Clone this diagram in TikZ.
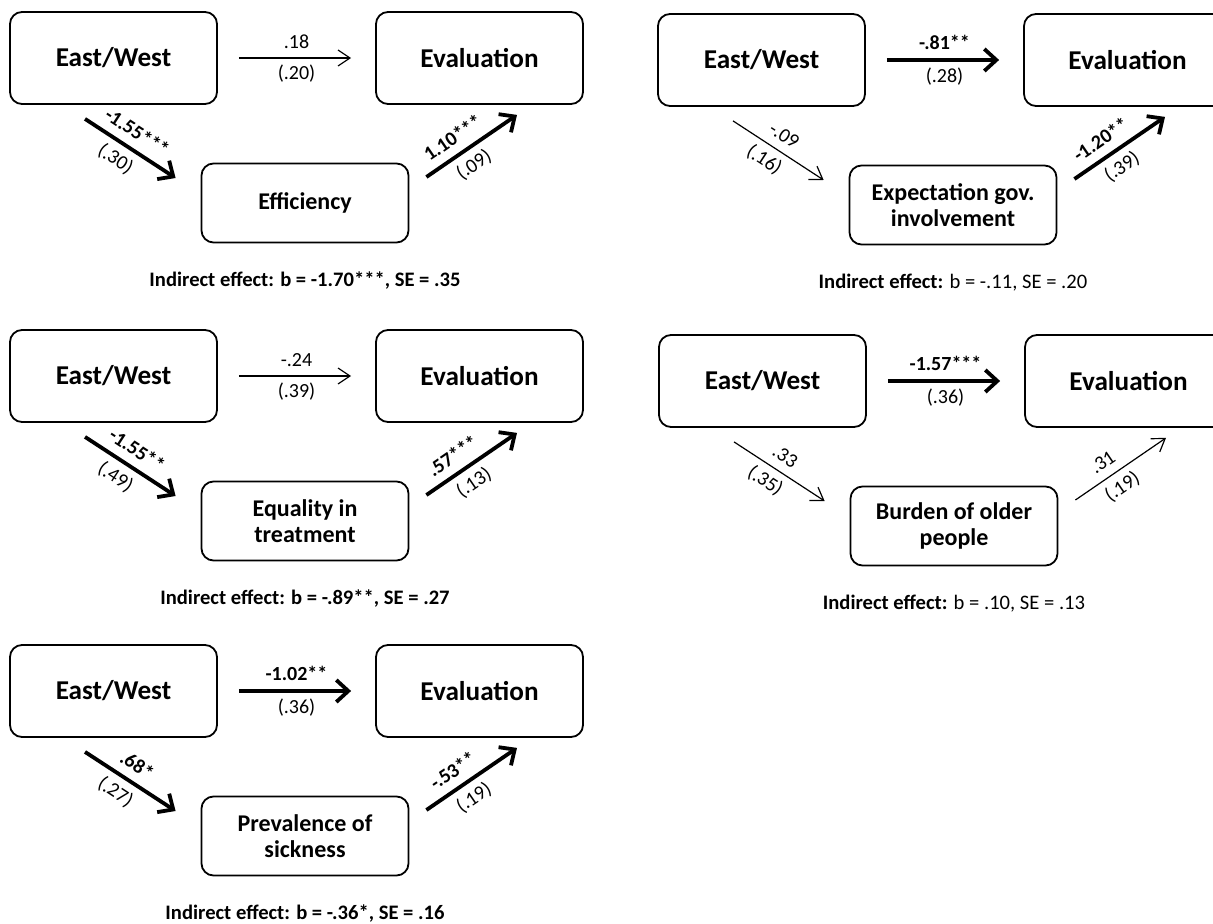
\documentclass[tikz,border=0pt]{standalone}
\usepackage{fontspec}
\setmainfont{Carlito}
\usetikzlibrary{arrows.meta,positioning}

\begin{document}
\begin{tikzpicture}[x=0.5pt, y=-0.5pt,
    var/.style={draw, rounded corners=6pt, line width=0.9pt, minimum width=103.5pt, minimum height=46pt, font=\fontsize{13.6}{16}\selectfont\bfseries},
    medbox/.style={var, minimum height=39.5pt, align=center, font=\fontsize{12}{13.2}\selectfont\bfseries},
    ns/.style={line width=0.6pt, -{Straight Barb[length=6pt,width=8pt]}},
    sig/.style={line width=1.9pt, -{Straight Barb[length=6pt,width=11pt]}},
    direct/.style={shorten <=10.5pt, shorten >=12pt},
    coef/.style={font=\fontsize{10}{12}\selectfont, inner sep=1pt},
    indirect/.style={font=\fontsize{10.3}{12}\selectfont, inner sep=0pt}
]
\useasboundingbox (0,0) rectangle (1213,924);

% efficiency
\node[var] (ew1) at (113.5,58) {East/West};
\node[var] (ev1) at (479.5,58) {Evaluation};
\node[medbox] (m1) at (305,203) {Efficiency};
\node[indirect, below=14pt of m1] (ie1) {\textbf{Indirect effect: b = -1.70***, SE = .35}};
\draw[ns, direct] (ew1) -- (ev1)
    node[coef, midway, above=3.3pt] {.18} node[coef, midway, below=2.2pt] {(.20)};
\draw[sig] ([shift={(-14.25pt,-7pt)}]ew1.south) -- ([shift={(-12.5pt,12.5pt)}]m1.west)
    node[coef, pos=0.47, sloped, above=3.3pt] {\textbf{-1.55***}} node[coef, pos=0.44, sloped, below=2.2pt] {(.30)};
\draw[sig] ([shift={(8.5pt,13pt)}]m1.east) -- ([shift={(18.75pt,-5pt)}]ev1.south)
    node[coef, pos=0.4, sloped, above=3.3pt] {\textbf{1.10***}} node[coef, pos=0.42, sloped, below=2.2pt] {(.09)};

% equality in treatment
\begin{scope}[shift={(0,318)}]
\node[var] (ew2) at (113.5,58) {East/West};
\node[var] (ev2) at (479.5,58) {Evaluation};
\node[medbox] (m2) at (305,203) {Equality in\\treatment};
\node[indirect, below=14pt of m2] (ie2) {\textbf{Indirect effect: b = -.89**, SE = .27}};
\draw[ns, direct] (ew2) -- (ev2)
    node[coef, midway, above=3.3pt] {-.24} node[coef, midway, below=2.2pt] {(.39)};
\draw[sig] ([shift={(-14.25pt,-7pt)}]ew2.south) -- ([shift={(-12.5pt,12.5pt)}]m2.west)
    node[coef, pos=0.47, sloped, above=3.3pt] {\textbf{-1.55**}} node[coef, pos=0.44, sloped, below=2.2pt] {(.49)};
\draw[sig] ([shift={(8.5pt,13pt)}]m2.east) -- ([shift={(18.75pt,-5pt)}]ev2.south)
    node[coef, pos=0.4, sloped, above=3.3pt] {\textbf{.57***}} node[coef, pos=0.42, sloped, below=2.2pt] {(.13)};
\end{scope}

% prevalence of sickness
\begin{scope}[shift={(0,633)}]
\node[var] (ew3) at (113.5,58) {East/West};
\node[var] (ev3) at (479.5,58) {Evaluation};
\node[medbox] (m3) at (305,203) {Prevalence of\\sickness};
\node[indirect, below=14pt of m3] (ie3) {\textbf{Indirect effect: b = -.36*, SE = .16}};
\draw[sig, direct] (ew3) -- (ev3)
    node[coef, midway, above=3.3pt] {\textbf{-1.02**}} node[coef, midway, below=2.2pt] {(.36)};
\draw[sig] ([shift={(-14.25pt,-7pt)}]ew3.south) -- ([shift={(-12.5pt,12.5pt)}]m3.west)
    node[coef, pos=0.47, sloped, above=3.3pt] {\textbf{.68*}} node[coef, pos=0.44, sloped, below=2.2pt] {(.27)};
\draw[sig] ([shift={(8.5pt,13pt)}]m3.east) -- ([shift={(18.75pt,-5pt)}]ev3.south)
    node[coef, pos=0.4, sloped, above=3.3pt] {\textbf{-.53**}} node[coef, pos=0.42, sloped, below=2.2pt] {(.19)};
\end{scope}

% expectation gov. involvement
\begin{scope}[shift={(648,2)}]
\node[var] (ew4) at (113.5,58) {East/West};
\node[var] (ev4) at (479.5,58) {Evaluation};
\node[medbox] (m4) at (305,203) {Expectation gov.\\involvement};
\node[indirect, below=14pt of m4] (ie4) {\textbf{Indirect effect:} b = -.11, SE = .20};
\draw[sig, direct] (ew4) -- (ev4)
    node[coef, midway, above=3.3pt] {\textbf{-.81**}} node[coef, midway, below=2.2pt] {(.28)};
\draw[ns] ([shift={(-14.25pt,-7pt)}]ew4.south) -- ([shift={(-12.5pt,12.5pt)}]m4.west)
    node[coef, pos=0.47, sloped, above=3.3pt] {-.09} node[coef, pos=0.44, sloped, below=2.2pt] {(.16)};
\draw[sig] ([shift={(8.5pt,13pt)}]m4.east) -- ([shift={(18.75pt,-5pt)}]ev4.south)
    node[coef, pos=0.4, sloped, above=3.3pt] {\textbf{-1.20**}} node[coef, pos=0.42, sloped, below=2.2pt] {(.39)};
\end{scope}

% burden of older people
\begin{scope}[shift={(649,323)}]
\node[var] (ew5) at (113.5,58) {East/West};
\node[var] (ev5) at (479.5,58) {Evaluation};
\node[medbox] (m5) at (305,203) {Burden of older\\people};
\node[indirect, below=14pt of m5] (ie5) {\textbf{Indirect effect:} b = .10, SE = .13};
\draw[sig, direct] (ew5) -- (ev5)
    node[coef, midway, above=3.3pt] {\textbf{-1.57***}} node[coef, midway, below=2.2pt] {(.36)};
\draw[ns] ([shift={(-14.25pt,-7pt)}]ew5.south) -- ([shift={(-12.5pt,12.5pt)}]m5.west)
    node[coef, pos=0.47, sloped, above=3.3pt] {.33} node[coef, pos=0.44, sloped, below=2.2pt] {(.35)};
\draw[ns] ([shift={(8.5pt,13pt)}]m5.east) -- ([shift={(18.75pt,-5pt)}]ev5.south)
    node[coef, pos=0.4, sloped, above=3.3pt] {.31} node[coef, pos=0.42, sloped, below=2.2pt] {(.19)};
\end{scope}
\end{tikzpicture}
\end{document}
